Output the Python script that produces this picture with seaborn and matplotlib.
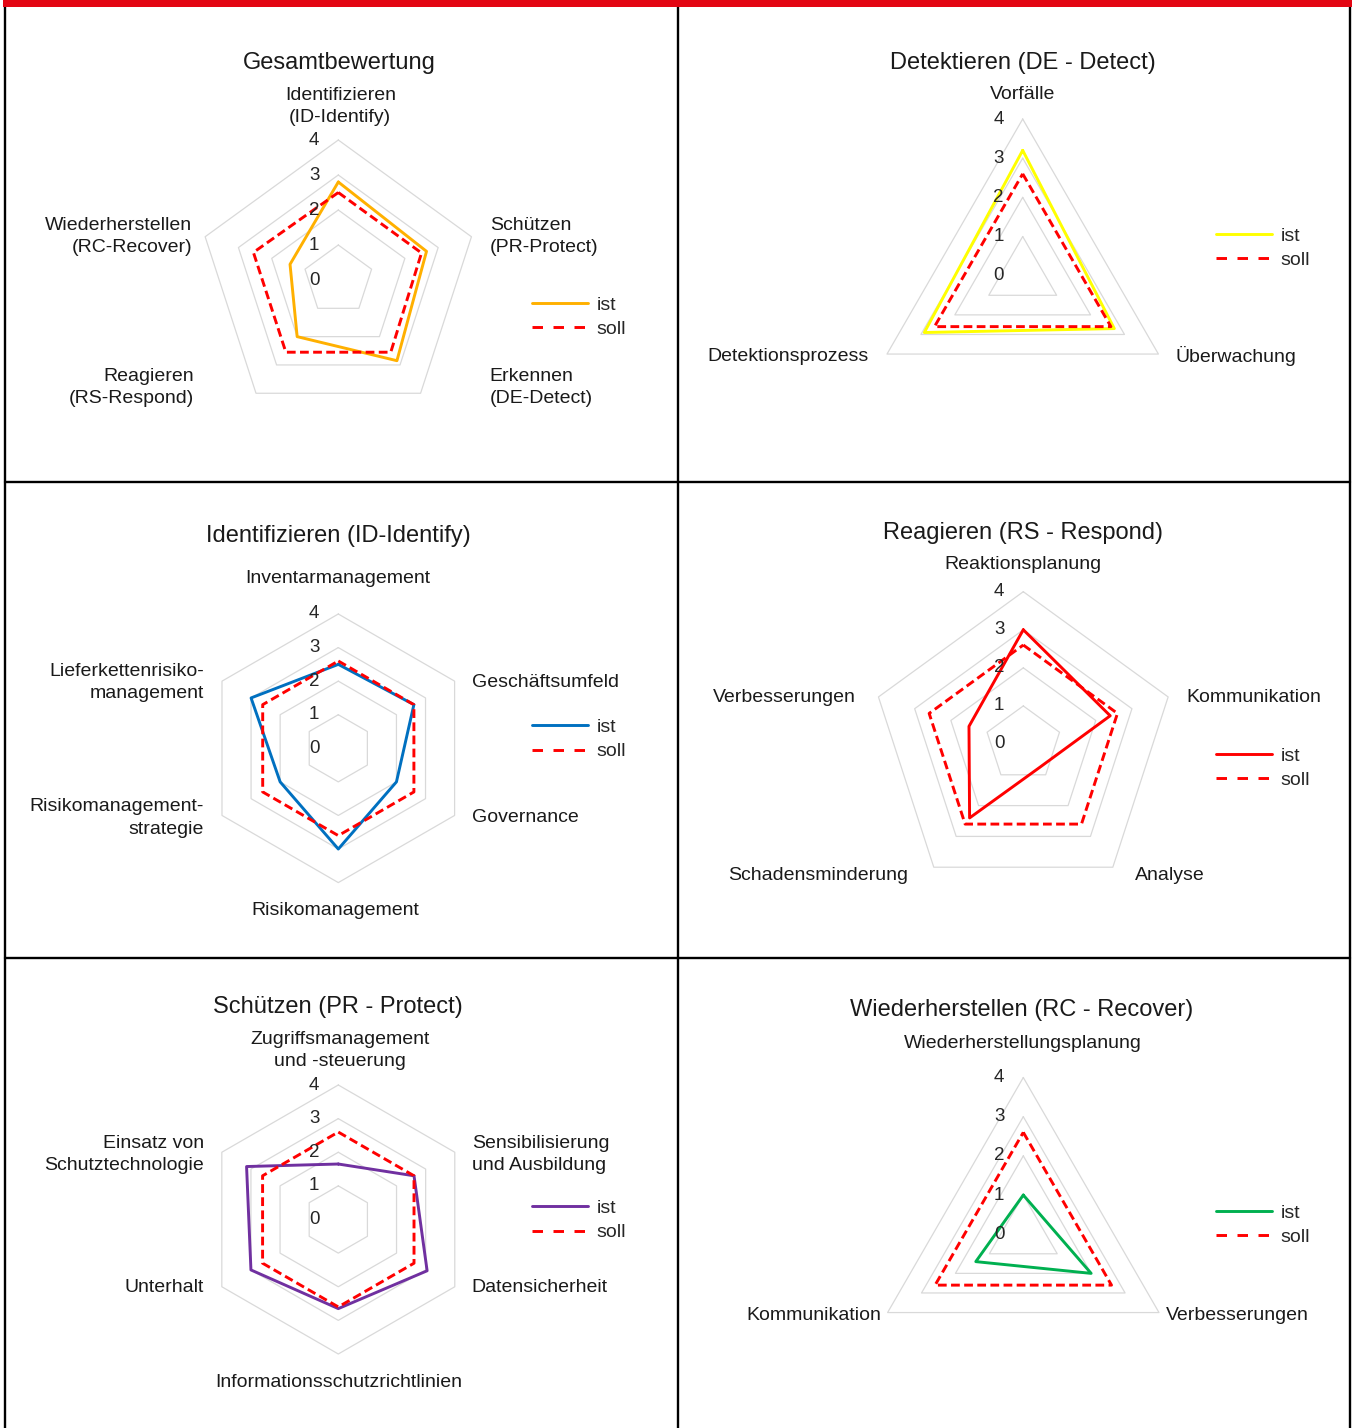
import numpy as np
import pandas as pd
import matplotlib
matplotlib.use("Agg")
import matplotlib.pyplot as plt
import seaborn as sns
from matplotlib.lines import Line2D
from matplotlib.patches import Rectangle

# ---------------- data ----------------
ring_levels = [1, 2, 3, 4]
tick_labels = ["0", "1", "2", "3", "4"]
series_names = ["ist", "soll"]

title_gesamt = "Gesamtbewertung"
cats_gesamt = ["Identifizieren\n(ID-Identify)", "Schützen\n(PR-Protect)", "Erkennen\n(DE-Detect)",
               "Reagieren\n(RS-Respond)", "Wiederherstellen\n(RC-Recover)"]
ist_gesamt = [2.8, 2.65, 2.85, 2.0, 1.45]
soll_gesamt = [2.5, 2.5, 2.55, 2.55, 2.55]

title_de = "Detektieren (DE - Detect)"
cats_de = ["Vorfälle", "Überwachung", "Detektionsprozess"]
ist_de = [3.2, 2.7, 2.9]
soll_de = [2.6, 2.6, 2.6]

title_id = "Identifizieren (ID-Identify)"
cats_id = ["Inventarmanagement", "Geschäftsumfeld", "Governance", "Risikomanagement",
           "Risikomanagement-\nstrategie", "Lieferkettenrisiko-\nmanagement"]
ist_id = [2.5, 2.6, 2.0, 3.0, 2.0, 3.0]
soll_id = [2.6, 2.6, 2.6, 2.6, 2.6, 2.6]

title_rs = "Reagieren (RS - Respond)"
cats_rs = ["Reaktionsplanung", "Kommunikation", "Analyse", "Schadensminderung", "Verbesserungen"]
ist_rs = [3.0, 2.4, 0.75, 2.4, 1.5]
soll_rs = [2.6, 2.6, 2.6, 2.6, 2.6]

title_pr = "Schützen (PR - Protect)"
cats_pr = ["Zugriffsmanagement\nund -steuerung", "Sensibilisierung\nund Ausbildung", "Datensicherheit",
           "Informationsschutzrichtlinien", "Unterhalt", "Einsatz von\nSchutztechnologie"]
ist_pr = [1.65, 2.6, 3.05, 2.65, 3.0, 3.15]
soll_pr = [2.6, 2.6, 2.6, 2.6, 2.6, 2.6]

title_rc = "Wiederherstellen (RC - Recover)"
cats_rc = ["Wiederherstellungsplanung", "Verbesserungen", "Kommunikation"]
ist_rc = [1.0, 2.0, 1.4]
soll_rc = [2.6, 2.6, 2.6]

# ---------------- style / layout ----------------
W, H = 1352, 1428
sns.set_style("white")
plt.rcParams["font.family"] = ["Liberation Sans", "DejaVu Sans"]

panels = [
    dict(title=title_gesamt, cats=cats_gesamt, ist=ist_gesamt, soll=soll_gesamt, color="#FFB000",
         center=(338.3, 280.0), R=140.0, title_xy=(339, 63), leg=(532, 317),
         offs=[(2, -14), (18.5, 0), (69, -6), (-62, -6), (-13, 0)]),
    dict(title=title_de, cats=cats_de, ist=ist_de, soll=soll_de, color="#FFFF00",
         center=(1022.7, 275.7), R=156.7, title_xy=(1023, 63), leg=(1216, 248),
         offs=[(0, -16), (17.5, 2), (-18, 2)]),
    dict(title=title_id, cats=cats_id, ist=ist_id, soll=soll_id, color="#0070C0",
         center=(338.3, 748.3), R=134.3, title_xy=(338, 536), leg=(532, 739.5),
         offs=[(0, -27), (17.5, 1), (17.5, 2.5), (-3, 19), (-18, 2.5), (-18, 1)]),
    dict(title=title_rs, cats=cats_rs, ist=ist_rs, soll=soll_rs, color="#FF0000",
         center=(1023.3, 744.0), R=152.3, title_xy=(1023, 533), leg=(1216, 768),
         offs=[(0, -19), (18, 1), (22, 8), (-26, 8), (-22.5, 1)]),
    dict(title=title_pr, cats=cats_pr, ist=ist_pr, soll=soll_pr, color="#7030A0",
         center=(338.3, 1219.5), R=134.5, title_xy=(338, 1007), leg=(532, 1220.5),
         offs=[(2, -15), (17, 2), (17, 1), (0, 20), (-18, 1), (-18, 2)]),
    dict(title=title_rc, cats=cats_rc, ist=ist_rc, soll=soll_rc, color="#00B050",
         center=(1023.3, 1234.2), R=156.7, title_xy=(1022, 1010), leg=(1216, 1225),
         offs=[(0, -25), (7, 3), (-6.5, 3)]),
]

fig = plt.figure(figsize=(W / 100, H / 100), dpi=100)
fig.patch.set_facecolor("white")

def fx(x):
    return x / W

def fy(y):
    return 1 - y / H

GRID = "#D9D9D9"
SOLL = "#FF0000"
LW = 2.1

for p in panels:
    cx, cy = p["center"]
    R = p["R"]
    ax = fig.add_axes([fx(cx - R), fy(cy + R), 2 * R / W, 2 * R / H], projection="polar")
    ax.set_theta_zero_location("N")
    ax.set_theta_direction(-1)
    ax.set_ylim(0, 4)
    ax.grid(False)
    ax.set_xticks([])
    ax.set_yticks([])
    ax.spines["polar"].set_visible(False)
    ax.patch.set_alpha(0)

    n = len(p["cats"])
    theta = np.linspace(0, 2 * np.pi, n, endpoint=False)
    theta_c = np.append(theta, 2 * np.pi)

    # polygon grid rings
    for lv in ring_levels:
        ax.plot(theta_c, [lv] * (n + 1), color=GRID, lw=0.9, zorder=1, clip_on=False)

    df = pd.DataFrame({
        "theta": np.concatenate([theta_c, theta_c]),
        "wert": np.concatenate([p["ist"] + p["ist"][:1], p["soll"] + p["soll"][:1]]),
        "serie": [series_names[0]] * (n + 1) + [series_names[1]] * (n + 1),
    })
    sns.lineplot(data=df, x="theta", y="wert", hue="serie", style="serie",
                 hue_order=series_names, style_order=series_names,
                 palette={"ist": p["color"], "soll": SOLL},
                 dashes={"ist": "", "soll": (3.0, 1.5)},
                 sort=False, estimator=None,
                 lw=LW, legend=False, ax=ax, zorder=3)
    for ln in ax.lines:
        ln.set_clip_on(False)
    ax.set_xlabel("")
    ax.set_ylabel("")

    # radial tick labels
    for i, t in enumerate(tick_labels):
        ax.annotate(t, xy=(0, i), xytext=(-19, 0), textcoords="offset pixels",
                    ha="right", va="center", fontsize=13.5, color="#262626",
                    annotation_clip=False, zorder=4)

    # category labels
    for ang, lab, (dx, dy) in zip(theta, p["cats"], p["offs"]):
        s, c = np.sin(ang), np.cos(ang)
        if abs(s) < 0.01:
            ha = "center"
            va = "bottom" if c > 0 else "top"
        else:
            ha = "left" if s > 0 else "right"
            va = "center"
        ax.annotate(lab, xy=(ang, 4), xytext=(dx, -dy), textcoords="offset pixels",
                    ha=ha, va=va, multialignment=ha if ha != "center" else "center",
                    fontsize=14, color="#1A1A1A", linespacing=1.4, annotation_clip=False)

    # title
    fig.text(fx(p["title_xy"][0]), fy(p["title_xy"][1]), p["title"], ha="center", va="center",
             fontsize=17, color="#1A1A1A")

    # legend
    handles = [Line2D([], [], color=p["color"], lw=LW),
               Line2D([], [], color=SOLL, lw=LW, linestyle=(0, (3.6, 3.6)))]
    fig.legend(handles, series_names, loc="center left",
               bbox_to_anchor=(fx(p["leg"][0]), fy(p["leg"][1])),
               frameon=False, fontsize=14, handlelength=2.9, handletextpad=0.42,
               labelspacing=0.33, borderpad=0, borderaxespad=0)

# frame lines
fig.add_artist(Rectangle((fx(3), fy(6.5)), (W - 3) / W, 6.5 / H, transform=fig.transFigure,
                         facecolor="#E30613", edgecolor="none", zorder=10))
BLW = 1.7
vlines = [5, 678, 1349.5]
for x in vlines:
    fig.add_artist(Line2D([fx(x), fx(x)], [fy(6.5), 0], transform=fig.transFigure,
                          color="black", lw=BLW, zorder=9))
for y in [481.5, 957.5]:
    fig.add_artist(Line2D([fx(5), fx(1349.5)], [fy(y), fy(y)], transform=fig.transFigure,
                          color="black", lw=BLW, zorder=9))

fig.savefig("out.png", dpi=100, facecolor="white")
